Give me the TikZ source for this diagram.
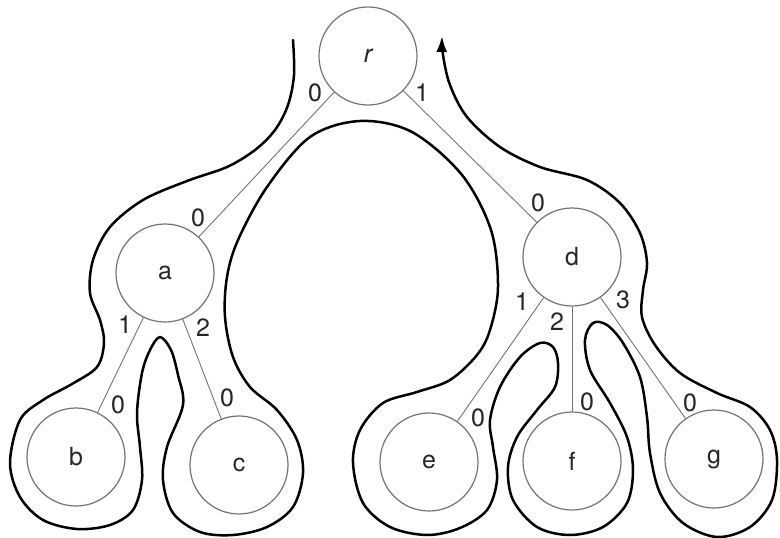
\documentclass[tikz,border=0pt]{standalone}
\usepackage{fontspec}
\setmainfont{TeX Gyre Heros}
\usetikzlibrary{arrows.meta}
\begin{document}
\begin{tikzpicture}[x=1pt,y=-1pt,
  treenode/.style={circle,draw=black!55,line width=1.2pt,minimum size=98pt,inner sep=0pt,font=\fontsize{25}{25}\selectfont,text=black!85},
  edge/.style={draw=black!55,line width=0.9pt},
  lbl/.style={inner sep=0pt,font=\fontsize{25}{25}\selectfont,text=black!85},
  tour/.style={line width=2.5pt,black,line cap=round,line join=round}]
\useasboundingbox (0,0) rectangle (780,538);
\node[treenode] (r) at (368,56) {\itshape r};
\node[treenode] (a) at (165,273) {a};
\node[treenode] (d) at (572,257) {d};
\node[treenode] (b) at (76,457) {b};
\node[treenode] (c) at (239,465) {c};
\node[treenode] (e) at (429,462) {e};
\node[treenode] (f) at (572,461) {f};
\node[treenode] (g) at (714,459) {g};
\draw[edge] (r) -- (a);
\draw[edge] (r) -- (d);
\draw[edge] (a) -- (b);
\draw[edge] (a) -- (c);
\draw[edge] (d) -- (e);
\draw[edge] (d) -- (f);
\draw[edge] (d) -- (g);
\node[lbl] (lr0) at (315,93) {0};
\node[lbl] (lr1) at (422,93) {1};
\node[lbl] (la0) at (198,218) {0};
\node[lbl] (ld0) at (538,203) {0};
\node[lbl] (la1) at (125,325) {1};
\node[lbl] (la2) at (203,328) {2};
\node[lbl] (ld1) at (522,302) {1};
\node[lbl] (ld2) at (557,322) {2};
\node[lbl] (ld3) at (623,300) {3};
\node[lbl] (lb0) at (118,405) {0};
\node[lbl] (lc0) at (227,398) {0};
\node[lbl] (le0) at (478,418) {0};
\node[lbl] (lf0) at (587,402) {0};
\node[lbl] (lg0) at (690,403) {0};
\draw[tour,-{Latex[length=16pt,width=11pt]}] plot[smooth,tension=0.55] coordinates {
(293,40) (294,75) (288,105) (275,130) (255,150) (227,167) (187,181) (143,200)
(110,227) (93,260) (90,293) (100,320) (104,343) (97,367) (72,384) (43,400)
(20,420) (10,463) (20,497) (43,520) (77,529) (110,525) (133,510) (142,480)
(140,447) (137,413) (142,373) (150,350) (160,337) (171,350) (178,375) (183,405)
(167,447) (163,480) (173,513) (200,532) (233,535) (267,527) (293,507) (303,473)
(297,440) (277,410) (250,387) (233,357) (225,317) (227,277) (238,240) (267,187)
(310,137) (360,121) (412,132) (462,175) (491,230) (498,287) (490,330) (477,355)
(450,380) (417,392) (383,403) (360,430) (353,463) (363,503) (390,527) (427,535)
(460,528) (487,510) (497,480) (493,447) (490,420) (500,387) (520,357) (540,343)
(553,347) (558,363) (555,387) (537,410) (517,437) (508,467) (513,500) (537,527)
(570,535) (603,527) (627,503) (633,470) (627,437) (610,403) (590,370) (585,340)
(593,323) (607,325) (623,343) (640,377) (647,417) (650,453) (660,493) (683,523)
(717,537) (750,527) (772,500) (777,460) (770,430) (750,407) (717,393) (680,373)
(655,345) (642,317) (643,290) (647,263) (640,233) (620,203) (587,180) (540,167)
(500,147) (467,117) (450,85) (443,55) (442,36)};
\end{tikzpicture}
\end{document}
